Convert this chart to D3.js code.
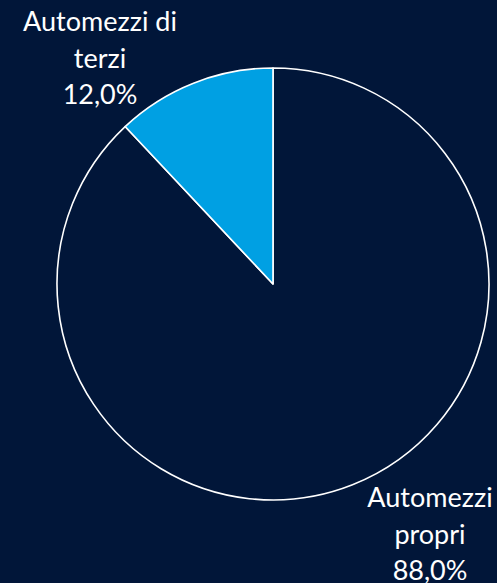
<!DOCTYPE html>
<html>
<head>
<meta charset="utf-8">
<script src="https://cdn.jsdelivr.net/npm/d3@7"></script>
<style>
  html, body { margin: 0; padding: 0; background: #011639; overflow: hidden; }
  svg { display: block; }
  .lbl { font-family: Lato, "Open Sans", sans-serif; font-size: 27px; fill: #ffffff; }
</style>
</head>
<body>
<script>
// data
var categories = ["Automezzi propri", "Automezzi di terzi"];
var values     = [88.0, 12.0];
var labelLines = [["Automezzi", "propri"], ["Automezzi di", "terzi"]];
var colors     = ["#011639", "#00A0E3"];

var width = 497, height = 583;
var cx = 273, cy = 284, radius = 216;

var svg = d3.select("body").append("svg")
  .attr("width", width)
  .attr("height", height);

var g = svg.append("g").attr("transform", "translate(" + cx + "," + cy + ")");

var pie = d3.pie().sort(null).value(function(d) { return d; });
var arc = d3.arc().innerRadius(0).outerRadius(radius);
var arcs = pie(values);

g.selectAll("path.slice")
  .data(arcs)
  .enter().append("path")
    .attr("class", "slice")
    .attr("d", arc)
    .style("fill", function(d, i) { return colors[i]; })
    .style("stroke", "#ffffff")
    .style("stroke-width", 1.6)
    .style("stroke-linejoin", "round");

// label anchors (best-fit placement like the original, outside the pie)
var labelPos = [
  { x: 430, y: 507 },  // propri, first baseline
  { x: 100, y: 31 }    // terzi, first baseline
];
var fmt = function(v) { return d3.format(".1f")(v).replace(".", ",") + "%"; };
var lineH = 36.5;

arcs.forEach(function(d, i) {
  var lines = labelLines[i].concat([fmt(values[i])]);
  var t = svg.append("text")
    .attr("class", "lbl")
    .attr("text-anchor", "middle");
  lines.forEach(function(s, k) {
    t.append("tspan")
      .attr("x", labelPos[i].x)
      .attr("y", labelPos[i].y + k * lineH)
      .text(s);
  });
});
</script>
</body>
</html>
